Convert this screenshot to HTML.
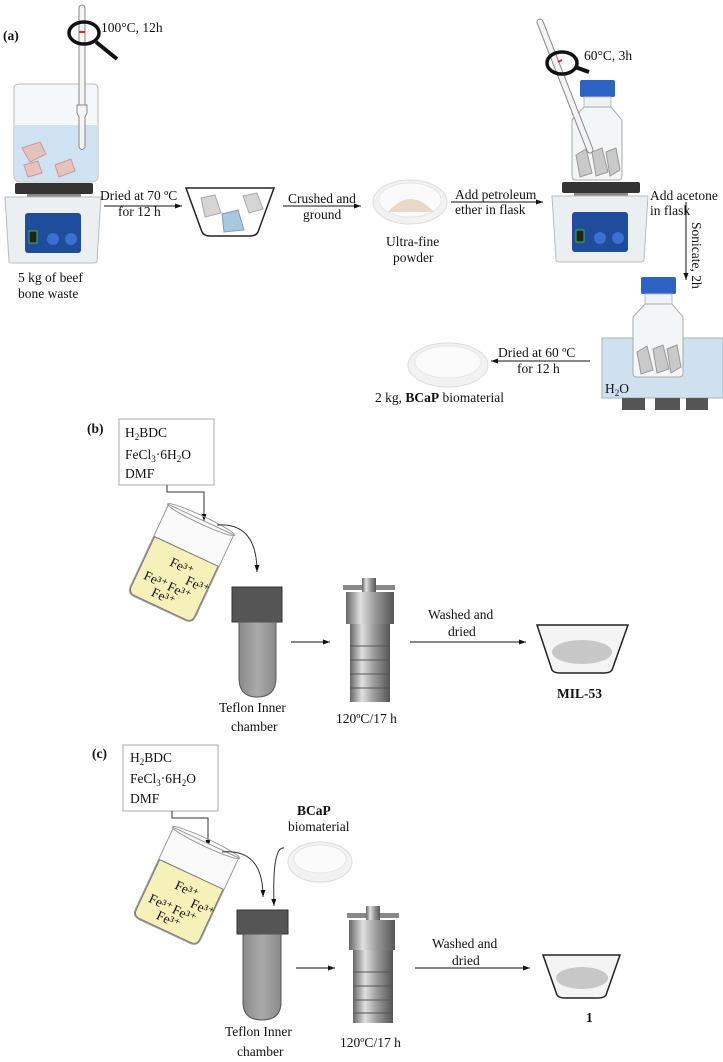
<!DOCTYPE html>
<html><head><meta charset="utf-8"><style>
html,body{margin:0;padding:0;background:#fff}
svg{display:block}
text{font-family:"Liberation Serif",serif;font-size:13.5px;fill:#111}
.b{font-weight:bold}
</style></head><body>
<svg width="723" height="1062" viewBox="0 0 723 1062" xmlns="http://www.w3.org/2000/svg">
<defs>
<marker id="ah" markerWidth="8" markerHeight="8" refX="7" refY="4" orient="auto" markerUnits="userSpaceOnUse"><path d="M0,1.5 L7,4 L0,6.5 Z" fill="#111"/></marker>
<linearGradient id="steel" x1="0" x2="1"><stop offset="0" stop-color="#666"/><stop offset=".3" stop-color="#e0e0e0"/><stop offset=".6" stop-color="#9a9a9a"/><stop offset="1" stop-color="#555"/></linearGradient>
<linearGradient id="tube" x1="0" x2="1"><stop offset="0" stop-color="#8a8a8a"/><stop offset=".5" stop-color="#aaa"/><stop offset="1" stop-color="#8a8a8a"/></linearGradient>
<g id="bottle">
<rect x="8" y="0" width="35" height="17" rx="2" fill="#2d63c4"/>
<rect x="12" y="17" width="27" height="10" fill="#eef2f5" stroke="#bbb"/>
<path d="M12,27 L0,40 V96 Q0,100 4,100 H46 Q50,100 50,96 V40 L39,27 Z" fill="#f3f5f7" stroke="#aaa"/>
<path d="M4,75 l10,-6 l6,24 l-12,4 Z M20,72 l10,-4 l6,24 l-12,4 Z M34,72 l10,-4 l4,22 l-10,6 Z" fill="#c9c9c9" stroke="#999"/>
</g>
<g id="plate">
<rect x="10" y="0" width="78" height="11" rx="2" fill="#333"/>
<rect x="22" y="11" width="54" height="4" fill="#888"/>
<path d="M0,14 H96 L92,78 Q92,80 88,80 H8 Q4,80 4,78 Z" fill="#eceff1" stroke="#bbb"/>
<rect x="20" y="30" width="56" height="40" rx="3" fill="#1f4d9c"/>
<rect x="24" y="48" width="8" height="12" fill="#222" stroke="#3b3"/>
<circle cx="48" cy="56" r="6" fill="#3b6fd0"/><circle cx="66" cy="56" r="6" fill="#3b6fd0"/>
</g>
</defs>

<!-- (a) -->
<text x="3" y="40" class="b" font-size="15">(a)</text>
<!-- beaker left -->
<path d="M14,88 Q14,84 20,84 H94 Q98,84 98,90 V176 Q98,182 90,182 H22 Q14,182 14,176 Z" fill="#f5f8fa" stroke="#bbb"/>
<path d="M15,125 H97 V176 Q97,181 90,181 H22 Q15,181 15,176 Z" fill="#cfe2f1"/>
<path d="M22,148 l18,-6 l6,12 l-16,8 Z M24,165 l14,-4 l4,12 l-14,4 Z M55,165 l16,-6 l4,12 l-16,6 Z" fill="#e5c2bb" stroke="#c99"/>
<!-- thermometer left -->
<rect x="79" y="5" width="6" height="105" rx="3" fill="#f4f4f4" stroke="#888"/>
<path d="M77,105 h10 v8 l-2,4 v30 q-3,5 -6,0 v-30 l-2,-4 Z" fill="#f4f4f4" stroke="#888"/>
<ellipse cx="84" cy="33" rx="15" ry="11" fill="none" stroke="#111" stroke-width="3.5"/>
<line x1="96" y1="42" x2="117" y2="59" stroke="#111" stroke-width="4"/>
<line x1="79" y1="32" x2="85" y2="32" stroke="#e22" stroke-width="2"/>
<text x="101" y="32">100°C, 12h</text>
<use href="#plate" x="5" y="183"/>
<text x="18" y="282">5 kg of beef</text><text x="18" y="298">bone waste</text>
<line x1="104" y1="206" x2="182" y2="206" stroke="#111" marker-end="url(#ah)"/>
<text x="100" y="200">Dried at 70 ºC</text>
<text x="118" y="216">for 12 h</text>
<!-- bowl -->
<path d="M186,188 H274 L258,232 Q256,236 250,236 H210 Q204,236 202,232 Z" fill="#fff" stroke="#222" stroke-width="1.5"/>
<path d="M201,198 l14,-3 l6,18 l-16,4 Z M243,196 l14,-3 l6,16 l-14,4 Z" fill="#d5d5d5" stroke="#aaa"/>
<path d="M222,214 l16,-4 l6,20 l-20,2 Z" fill="#a8c8e0" stroke="#89a"/>
<line x1="283" y1="206" x2="361" y2="206" stroke="#111" marker-end="url(#ah)"/>
<text x="288" y="203">Crushed and</text><text x="303" y="219">ground</text>
<!-- petri -->
<ellipse cx="410" cy="202" rx="37" ry="22" fill="#f2f2f2" stroke="#ddd"/>
<ellipse cx="410" cy="200" rx="31" ry="17" fill="#fafafa" stroke="#e6e6e6"/>
<path d="M388,212 Q410,186 434,212 Z" fill="#ead8c6"/>
<text x="386" y="246">Ultra-fine</text><text x="393" y="262">powder</text>
<line x1="451" y1="202" x2="543" y2="202" stroke="#111" marker-end="url(#ah)"/>
<text x="455" y="199">Add petroleum</text><text x="455" y="214">ether in flask</text>
<!-- right thermometer + bottle + plate -->
<use href="#bottle" x="572" y="80"/>
<path d="M540,22 L590,150" stroke="#888" stroke-width="7" stroke-linecap="round"/>
<path d="M540,22 L590,150" stroke="#f4f4f4" stroke-width="5" stroke-linecap="round"/>
<ellipse cx="562" cy="63" rx="15" ry="11" fill="none" stroke="#111" stroke-width="3.5"/>
<line x1="575" y1="67" x2="589" y2="72" stroke="#111" stroke-width="4"/>
<line x1="558" y1="62" x2="562" y2="60" stroke="#e22" stroke-width="2"/>
<text x="584" y="60">60°C, 3h</text>
<use href="#plate" x="552" y="182"/>
<text x="650" y="200">Add acetone</text><text x="650" y="215">in flask</text>
<line x1="686" y1="202" x2="686" y2="280" stroke="#111" marker-end="url(#ah)"/>
<text transform="translate(692,222) rotate(90)">Sonicate, 2h</text>
<!-- bath -->
<rect x="602" y="338" width="121" height="60" fill="#cfe0ee" stroke="#9bb"/>
<use href="#bottle" x="633" y="277"/>
<text x="605" y="393">H<tspan font-size="9" dy="3">2</tspan><tspan dy="-3">O</tspan></text>
<rect x="622" y="398" width="23" height="12" fill="#555"/><rect x="655" y="398" width="25" height="12" fill="#555"/><rect x="686" y="398" width="22" height="12" fill="#555"/>
<line x1="590" y1="361" x2="491" y2="361" stroke="#111" marker-end="url(#ah)"/>
<text x="498" y="357">Dried at 60 ºC</text><text x="517" y="373">for 12 h</text>
<ellipse cx="448" cy="365" rx="40" ry="22" fill="#f2f2f2" stroke="#ddd"/>
<ellipse cx="448" cy="362" rx="33" ry="16" fill="#fbfbfb" stroke="#e6e6e6"/>
<text x="375" y="402">2 kg, <tspan class="b">BCaP</tspan> biomaterial</text>

<!-- (b) -->
<text x="87" y="433" class="b" font-size="15">(b)</text>
<rect x="119" y="419" width="95" height="66" fill="#fff" stroke="#aaa"/>
<text x="125" y="437" font-size="15">H<tspan font-size="9" dy="3">2</tspan><tspan dy="-3">BDC</tspan></text>
<text x="125" y="459" font-size="15">FeCl<tspan font-size="9" dy="3">3</tspan><tspan dy="-3">·6H</tspan><tspan font-size="9" dy="3">2</tspan><tspan dy="-3">O</tspan></text>
<text x="125" y="478" font-size="15">DMF</text>
<polyline points="167,485 167,492 204,492 204,521" fill="none" stroke="#333" marker-end="url(#ah)"/>
<g id="bk">
<g transform="translate(180,565) rotate(25)">
<path d="M-36,-50 H36 V40 Q36,48 28,48 H-28 Q-36,48 -36,40 Z" fill="#fafafa" stroke="#999"/>
<path d="M-35,-15 H35 V40 Q35,47 28,47 H-28 Q-35,47 -35,40 Z" fill="#f6f1b8" stroke="#777"/>
<ellipse cx="0" cy="-50" rx="37" ry="4" fill="none" stroke="#999"/>
<text x="-10" y="5" font-size="6">Fe³⁺</text><text x="12" y="15" font-size="6">Fe³⁺</text><text x="-28" y="28" font-size="6">Fe³⁺</text><text x="-2" y="28" font-size="6">Fe³⁺</text><text x="-14" y="40" font-size="6">Fe³⁺</text>
</g>
</g>
<path d="M217,525 Q257,522 257,572" fill="none" stroke="#333" marker-end="url(#ah)"/>
<rect x="232" y="587" width="50" height="35" fill="#555" stroke="#333"/>
<path d="M239,622 H276 V678 Q276,697 257,697 Q239,697 239,678 Z" fill="url(#tube)" stroke="#555"/>
<text x="219" y="712">Teflon Inner</text><text x="231" y="731">chamber</text>
<line x1="291" y1="642" x2="330" y2="642" stroke="#111" marker-end="url(#ah)"/>
<rect x="343" y="585" width="52" height="5" fill="#888"/>
<rect x="362" y="578" width="14" height="16" fill="url(#steel)"/>
<rect x="346" y="592" width="48" height="32" fill="url(#steel)"/>
<rect x="350" y="624" width="40" height="78" fill="url(#steel)"/>
<line x1="350" y1="646" x2="390" y2="646" stroke="#555"/><line x1="350" y1="660" x2="390" y2="660" stroke="#555"/><line x1="350" y1="674" x2="390" y2="674" stroke="#555"/><line x1="350" y1="688" x2="390" y2="688" stroke="#555"/>
<text x="336" y="723">120ºC/17 h</text>
<line x1="410" y1="642" x2="526" y2="642" stroke="#111" marker-end="url(#ah)"/>
<text x="428" y="619">Washed and</text><text x="448" y="636">dried</text>
<path d="M537,625 H628 L612,670 Q610,673 604,673 H560 Q554,673 552,670 Z" fill="#f4f4f4" stroke="#222" stroke-width="1.5"/>
<ellipse cx="582" cy="652" rx="30" ry="12" fill="#bbb" opacity=".8"/>
<text x="557" y="698" class="b" font-size="18">MIL-53</text>

<!-- (c) -->
<text x="92" y="758" class="b" font-size="15">(c)</text>
<rect x="123" y="745" width="95" height="66" fill="#fff" stroke="#aaa"/>
<text x="130" y="762" font-size="15">H<tspan font-size="9" dy="3">2</tspan><tspan dy="-3">BDC</tspan></text>
<text x="130" y="783" font-size="15">FeCl<tspan font-size="9" dy="3">3</tspan><tspan dy="-3">·6H</tspan><tspan font-size="9" dy="3">2</tspan><tspan dy="-3">O</tspan></text>
<text x="130" y="803" font-size="15">DMF</text>
<polyline points="172,811 172,818 208,818 208,847" fill="none" stroke="#333" marker-end="url(#ah)"/>
<use href="#bk" x="5" y="323"/>
<path d="M222,852 Q263,848 263,897" fill="none" stroke="#333" marker-end="url(#ah)"/>
<path d="M284,848 Q272,846 274,906" fill="none" stroke="#333" marker-end="url(#ah)"/>
<text x="297" y="815" class="b">BCaP</text><text x="288" y="831">biomaterial</text>
<ellipse cx="320" cy="862" rx="32" ry="20" fill="#f2f2f2" stroke="#ddd"/>
<ellipse cx="320" cy="859" rx="26" ry="14" fill="#fbfbfb" stroke="#e6e6e6"/>
<rect x="237" y="910" width="51" height="24" fill="#555" stroke="#333"/>
<path d="M243,934 H281 V1002 Q281,1020 262,1020 Q243,1020 243,1002 Z" fill="url(#tube)" stroke="#555"/>
<text x="225" y="1036">Teflon Inner</text><text x="237" y="1056">chamber</text>
<line x1="296" y1="968" x2="335" y2="968" stroke="#111" marker-end="url(#ah)"/>
<rect x="347" y="913" width="52" height="5" fill="#888"/>
<rect x="366" y="906" width="14" height="16" fill="url(#steel)"/>
<rect x="349" y="920" width="46" height="30" fill="url(#steel)"/>
<rect x="353" y="950" width="40" height="73" fill="url(#steel)"/>
<line x1="353" y1="972" x2="393" y2="972" stroke="#555"/><line x1="353" y1="986" x2="393" y2="986" stroke="#555"/><line x1="353" y1="1000" x2="393" y2="1000" stroke="#555"/><line x1="353" y1="1013" x2="393" y2="1013" stroke="#555"/>
<text x="340" y="1047">120ºC/17 h</text>
<line x1="415" y1="968" x2="530" y2="968" stroke="#111" marker-end="url(#ah)"/>
<text x="432" y="948">Washed and</text><text x="452" y="965">dried</text>
<path d="M543,955 H620 L606,995 Q604,998 598,998 H565 Q559,998 557,995 Z" fill="#f4f4f4" stroke="#222" stroke-width="1.5"/>
<ellipse cx="582" cy="978" rx="26" ry="11" fill="#bbb" opacity=".8"/>
<text x="586" y="1022" class="b" font-size="18">1</text>
</svg>
</body></html>
